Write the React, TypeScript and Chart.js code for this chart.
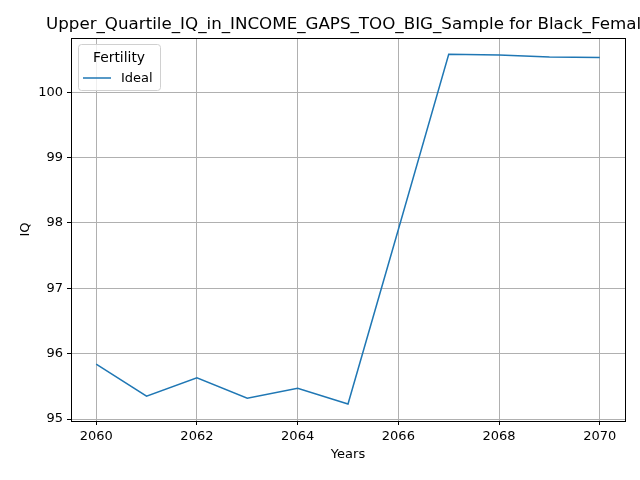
import React, { useEffect, useRef } from "react";
import { Chart, registerables } from "chart.js";

Chart.register(...registerables);

const years = [2060, 2061, 2062, 2063, 2064, 2065, 2066, 2067, 2068, 2069, 2070];
const ideal = [95.84, 95.35, 95.63, 95.32, 95.47, 95.23, 97.9, 100.58, 100.57, 100.54, 100.53];
const xTicks = [2060, 2062, 2064, 2066, 2068, 2070];
const yTicks = [95, 96, 97, 98, 99, 100];
const titleText = "Upper_Quartile_IQ_in_INCOME_GAPS_TOO_BIG_Sample for Black_Females";
const legendTitle = "Fertility";
const FONT = "DejaVu Sans, sans-serif";

const decor = {
  id: "decor",
  afterDraw(chart: any) {
    const { ctx, chartArea: a } = chart;
    ctx.save();
    // frame
    ctx.strokeStyle = "#000";
    ctx.lineWidth = 1;
    ctx.strokeRect(a.left + 0.5, a.top + 0.5, a.right - a.left, a.bottom - a.top);
    // title
    ctx.fillStyle = "#000";
    ctx.font = `16.7px ${FONT}`;
    ctx.textBaseline = "alphabetic";
    ctx.textAlign = "left";
    ctx.fillText(titleText, 46, 29);
    // legend
    const lx = a.left + 7, ly = a.top + 6;
    ctx.fillStyle = "rgba(255,255,255,0.8)";
    ctx.strokeStyle = "#d0d0d0";
    ctx.beginPath();
    ctx.roundRect(lx + 0.5, ly + 0.5, 82, 46, 3);
    ctx.fill();
    ctx.stroke();
    ctx.fillStyle = "#000";
    ctx.font = `13.9px ${FONT}`;
    ctx.textAlign = "center";
    ctx.fillText(legendTitle, lx + 41, ly + 18);
    const ds = chart.data.datasets[0];
    ctx.strokeStyle = ds.borderColor;
    ctx.lineWidth = 1.5;
    ctx.beginPath();
    ctx.moveTo(lx + 5, ly + 34);
    ctx.lineTo(lx + 33, ly + 34);
    ctx.stroke();
    ctx.textAlign = "left";
    ctx.font = `13px ${FONT}`;
    ctx.fillText(ds.label, lx + 43, ly + 38);
    ctx.restore();
  },
};

export default function App() {
  const ref = useRef<HTMLCanvasElement | null>(null);

  useEffect(() => {
    document.body.style.margin = "0";
    if (!ref.current) return;
    const tickFont = { family: FONT, size: 13 };
    const chart = new Chart(ref.current, {
      type: "line",
      data: {
        datasets: [
          {
            label: "Ideal",
            data: years.map((y, i) => ({ x: y, y: ideal[i] })),
            borderColor: "#1f77b4",
            borderWidth: 1.5,
            pointRadius: 0,
            tension: 0,
          },
        ],
      },
      options: {
        animation: false,
        responsive: false,
        layout: { padding: { top: 38, right: 15, left: 14, bottom: 14 } },
        plugins: { legend: { display: false }, title: { display: false }, tooltip: { enabled: false } },
        scales: {
          x: {
            type: "linear",
            min: 2059.5,
            max: 2070.5,
            afterBuildTicks: (s: any) => { s.ticks = xTicks.map((v) => ({ value: v })); },
            afterFit: (s: any) => { s.height = 45; },
            ticks: { color: "#000", font: tickFont, padding: 4, callback: (v: any) => String(v) },
            grid: { color: "#b0b0b0", tickLength: 4, tickColor: "#000" },
            border: { display: false },
            title: { display: true, text: "Years", color: "#000", font: tickFont, padding: { top: 0 } },
          },
          y: {
            min: 94.97,
            max: 100.83,
            afterBuildTicks: (s: any) => { s.ticks = yTicks.map((v) => ({ value: v })); },
            afterFit: (s: any) => { s.width = 57; },
            ticks: { color: "#000", font: tickFont, padding: 4, callback: (v: any) => String(v) },
            grid: { color: "#b0b0b0", tickLength: 4, tickColor: "#000" },
            border: { display: false },
            title: { display: true, text: "IQ", color: "#000", font: tickFont, padding: { bottom: 4 } },
          },
        },
      },
      plugins: [decor],
    });
    return () => chart.destroy();
  }, []);

  return <canvas ref={ref} width={640} height={480} style={{ display: "block" }} />;
}
